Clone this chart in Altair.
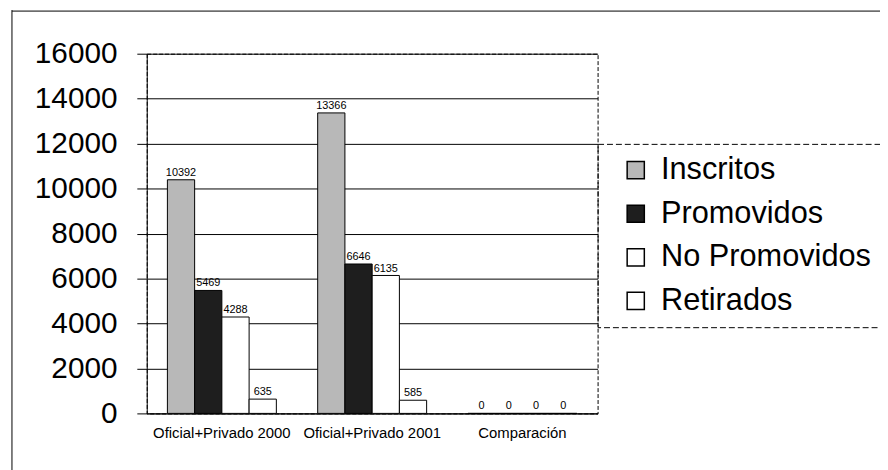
import altair as alt
import pandas as pd

categories = ["Oficial+Privado 2000", "Oficial+Privado 2001", "Comparación"]
series = ["Inscritos", "Promovidos", "No Promovidos", "Retirados"]
inscritos = [10392, 13366, 0]
promovidos = [5469, 6646, 0]
no_promovidos = [4288, 6135, 0]
retirados = [635, 585, 0]
colors = ["#b8b8b8", "#1e1e1e", "#ffffff", "#ffffff"]
y_ticks = [0, 2000, 4000, 6000, 8000, 10000, 12000, 14000, 16000]

rows = []
for vals, s in zip([inscritos, promovidos, no_promovidos, retirados], series):
    for c, v in zip(categories, vals):
        rows.append({"cat": c, "serie": s, "valor": v})
df = pd.DataFrame(rows)

FONT = "Liberation Sans"

x_enc = alt.X("cat:N", sort=categories, title=None,
              scale=alt.Scale(paddingInner=0.275, paddingOuter=0.1375),
              axis=alt.Axis(labelAngle=0, labelFontSize=15, labelPadding=12,
                            ticks=False, domainColor="#000", labelColor="#000",
                            labelFont=FONT))
xo_enc = alt.XOffset("serie:N", sort=series, scale=alt.Scale(paddingInner=0, paddingOuter=0))
y_enc = alt.Y("valor:Q", title=None,
              scale=alt.Scale(domain=[0, 16000], nice=False),
              axis=alt.Axis(values=y_ticks, format="d", labelFontSize=30, labelPadding=20,
                            tickSize=10, tickColor="#000", domainColor="#000",
                            gridColor="#000", gridWidth=1, labelColor="#000",
                            labelFont=FONT))

base = alt.Chart(df)

bars = base.mark_bar(stroke="#000", strokeWidth=1).encode(
    x=x_enc, xOffset=xo_enc, y=y_enc,
    color=alt.Color("serie:N", sort=series,
                    scale=alt.Scale(domain=series, range=colors),
                    legend=alt.Legend(title=None, orient="none", legendX=455, legendY=91,
                                      labelFontSize=31, labelFont=FONT, labelColor="#000",
                                      labelLimit=400,
                                      symbolType="square", symbolSize=300,
                                      symbolStrokeColor="#000", symbolStrokeWidth=1.5,
                                      symbolOffset=12,
                                      rowPadding=12, padding=11, labelOffset=10)),
)

labels = base.mark_text(dy=-7, fontSize=11, font=FONT, color="#000").encode(
    x=alt.X("cat:N", sort=categories), xOffset=alt.XOffset("serie:N", sort=series),
    y="valor:Q", text=alt.Text("valor:Q", format="d"),
)

frame_df = pd.DataFrame({"k": [0]})
frame_v = alt.Chart(frame_df).mark_rule(color="#000", strokeWidth=1).encode(
    x=alt.value(-136), y=alt.value(-44), y2=alt.value(430))
frame_h = alt.Chart(frame_df).mark_rule(color="#000", strokeWidth=1).encode(
    y=alt.value(-43), x=alt.value(-136), x2=alt.value(745))

chart = alt.layer(frame_v, frame_h, bars, labels).properties(
    width=455, height=363,
    autosize=alt.AutoSizeParams(type="none"),
    padding={"left": 140, "top": 44, "right": 285, "bottom": 55},
    background="#ffffff",
).configure_view(stroke="#000", strokeDash=[4, 2], strokeWidth=1
).configure_legend(strokeColor="#000", strokeDash=[6, 3])

chart.save("out.html", embed_options={"renderer": "svg", "actions": False})
